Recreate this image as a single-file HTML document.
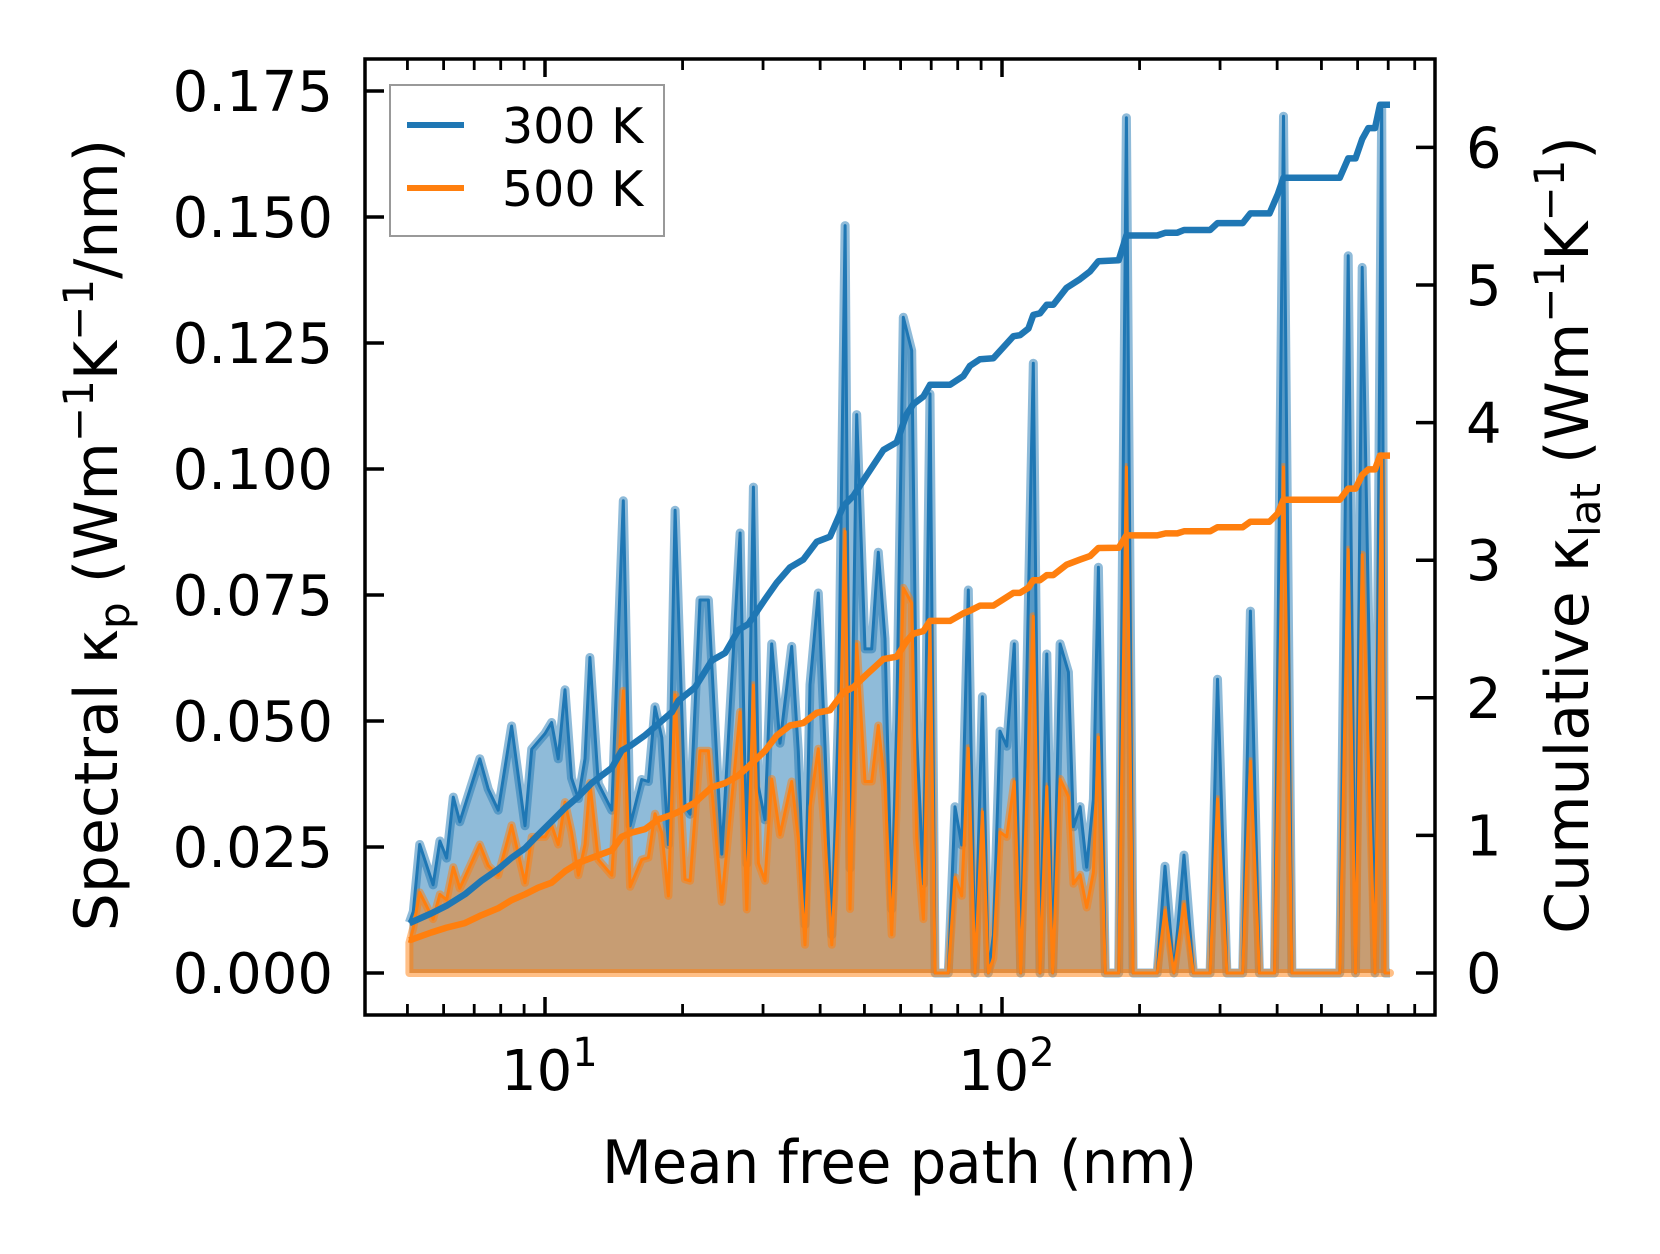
<!DOCTYPE html>
<html><head><meta charset="utf-8"><style>
html,body{margin:0;padding:0;background:#fff}
svg{display:block}
text{font-family:"DejaVu Sans","Liberation Sans",sans-serif;fill:#000}
</style></head><body>
<svg id="chart" width="1660" height="1254" viewBox="0 0 1660 1254" xmlns="http://www.w3.org/2000/svg">
<g id="plot"></g>
<g id="axes"></g>
</svg>
<script>
// Spectral data (mean free path nm, spectral kappa)
const mfpSpec = [5.05,5.15,5.32,5.69,5.89,6.09,6.30,6.51,7.20,7.51,7.90,8.45,9.04,9.35,10.00,10.34,10.69,11.06,11.43,11.83,12.23,12.54,13.08,14.00,14.84,15.35,16.28,16.84,17.41,18.01,18.62,19.26,20.25,20.77,21.84,22.78,24.37,26.73,27.64,28.58,29.30,30.29,31.33,32.68,34.66,35.84,37.06,38.01,39.64,41.00,42.41,43.85,45.35,46.50,48.08,50.14,51.86,53.63,55.46,57.36,58.82,60.83,63.45,65.07,67.30,69.59,71.37,76.30,78.91,81.61,84.40,87.29,90.58,93.35,95.74,99.01,102.4,106.4,109.9,117.1,121.1,125.3,129.1,134.0,139.7,143.3,148.2,153.2,158.5,162.5,168.3,180.0,187.2,193.6,218.6,227.3,237.8,250.2,262.3,285.4,296.2,310.5,336.2,349.5,365.8,394.8,413.0,430.8,548.4,572.1,593.7,614.1,654.8,677.3,688.8,706.5];
const spec300 = [0.0100,0.0122,0.0255,0.0175,0.0262,0.0228,0.0349,0.0300,0.0425,0.0365,0.0323,0.0490,0.0292,0.0444,0.0475,0.0497,0.0425,0.0562,0.0387,0.0346,0.0425,0.0626,0.0376,0.0323,0.0937,0.0292,0.0384,0.0380,0.0528,0.0467,0.0255,0.0918,0.0330,0.0315,0.0740,0.0740,0.0236,0.0873,0.0217,0.0964,0.0370,0.0304,0.0653,0.0456,0.0648,0.0440,0.0096,0.0572,0.0754,0.0450,0.0076,0.0511,0.1483,0.0208,0.1108,0.0643,0.0643,0.0835,0.0663,0.0127,0.0501,0.1301,0.1235,0.0471,0.0177,0.1149,0,0,0.0330,0.0254,0.0760,0,0.0548,0,0.0075,0.0480,0.0450,0.0653,0,0.1210,0,0.0633,0,0.0653,0.0597,0.0290,0.0330,0.0210,0.0345,0.0805,0,0,0.1697,0,0,0.0212,0,0.0234,0,0,0.0583,0,0,0.0718,0,0,0.1700,0,0,0.1423,0,0.1400,0,0.1720,0,0];
const spec500 = [0.0060,0.0090,0.0160,0.0107,0.0156,0.0145,0.0210,0.0168,0.0255,0.0213,0.0194,0.0293,0.0179,0.0270,0.0270,0.0293,0.0255,0.0339,0.0280,0.0194,0.0255,0.0377,0.0225,0.0194,0.0560,0.0171,0.0225,0.0229,0.0316,0.0278,0.0153,0.0552,0.0186,0.0183,0.0441,0.0441,0.0141,0.0518,0.0126,0.0571,0.0218,0.0183,0.0385,0.0274,0.0380,0.0268,0.0056,0.0330,0.0445,0.0270,0.0056,0.0330,0.0876,0.0127,0.0653,0.0380,0.0380,0.0491,0.0370,0.0076,0.0330,0.0764,0.0734,0.0268,0.0107,0.0693,0,0,0.0190,0.0153,0.0446,0,0.0320,0,0.0030,0.0280,0.0270,0.0380,0,0.0708,0,0.0370,0,0.0385,0.0350,0.0177,0.0195,0.0130,0.0200,0.0468,0,0,0.1004,0,0,0.0125,0,0.0137,0,0,0.0345,0,0,0.0420,0,0,0.1004,0,0,0.0840,0,0.0830,0,0.1026,0,0];
// Cumulative data
const mfpCum = [5.05,5.64,6.09,6.68,7.26,7.90,8.45,9.04,9.66,10.34,11.06,11.83,12.65,14.00,14.72,15.48,16.56,17.71,18.94,19.58,21.30,23.17,24.79,26.50,27.87,30.32,32.14,34.37,36.75,39.32,42.04,44.96,47.29,50.56,55.02,58.82,61.85,63.97,67.30,69.59,76.95,82.31,85.11,89.51,95.74,105.9,109.5,114.2,117.1,121.1,125.3,129.5,138.5,148.2,155.8,162.5,180.0,187.2,218.6,228.0,241.9,250.2,285.4,296.2,336.2,349.5,384.8,401.4,413.0,548.4,572.1,593.7,614.1,633.1,654.8,671.7,706.5];
const cum300 = [0.363,0.433,0.489,0.572,0.670,0.754,0.837,0.906,1.004,1.101,1.199,1.282,1.380,1.491,1.616,1.658,1.728,1.811,1.895,1.978,2.076,2.271,2.326,2.493,2.536,2.717,2.836,2.948,3.004,3.134,3.171,3.393,3.467,3.616,3.801,3.857,4.060,4.134,4.190,4.275,4.275,4.339,4.413,4.461,4.468,4.628,4.635,4.683,4.783,4.794,4.857,4.857,4.980,5.043,5.099,5.173,5.18,5.36,5.36,5.38,5.38,5.40,5.40,5.45,5.45,5.52,5.52,5.66,5.78,5.78,5.92,5.92,6.06,6.14,6.14,6.31,6.31];
const cum500 = [0.238,0.294,0.330,0.363,0.420,0.470,0.530,0.572,0.620,0.656,0.739,0.800,0.837,0.892,0.990,1.020,1.046,1.116,1.150,1.171,1.240,1.350,1.380,1.435,1.500,1.616,1.725,1.799,1.817,1.891,1.910,2.040,2.077,2.169,2.281,2.299,2.411,2.466,2.485,2.559,2.559,2.614,2.633,2.670,2.670,2.762,2.762,2.800,2.855,2.855,2.892,2.892,2.967,3.004,3.030,3.089,3.09,3.18,3.18,3.195,3.195,3.21,3.21,3.24,3.24,3.28,3.28,3.34,3.44,3.44,3.52,3.52,3.62,3.66,3.66,3.76,3.76];
const leftTicks = [0,0.025,0.05,0.075,0.1,0.125,0.15,0.175];
const leftTickLabels = ["0.000","0.025","0.050","0.075","0.100","0.125","0.150","0.175"];
const rightTicks = [0,1,2,3,4,5,6];
const xMajor = [10,100];
const xMinor = [5,6,7,8,9,20,30,40,50,60,70,80,90,200,300,400,500,600,700,800];

const NS="http://www.w3.org/2000/svg";
const L=365,R=1435,T=59,B=1015;
function xs(v){return 545+(Math.log10(v)-1)*457;}
function yl(v){return 973-v*5040;}
function yr(v){return 973-v*137.6;}
function mk(tag,attrs,parent){const e=document.createElementNS(NS,tag);for(const k in attrs)e.setAttribute(k,attrs[k]);parent.appendChild(e);return e;}
const plot=document.getElementById('plot'), axes=document.getElementById('axes');

function linePts(xv,yv,fy){return xv.map((x,i)=>xs(x).toFixed(1)+','+fy(yv[i]).toFixed(1)).join(' ');}
function areaPts(xv,yv){return xs(xv[0]).toFixed(1)+','+yl(0)+' '+linePts(xv,yv,yl)+' '+xs(xv[xv.length-1]).toFixed(1)+','+yl(0);}

let e;
e=mk('polygon',{points:areaPts(mfpSpec,spec300),fill:'#1f77b4','fill-opacity':0.5,stroke:'none'},plot);


e=mk('polyline',{points:linePts(mfpSpec,spec300,yl),fill:'none',stroke:'#1f77b4','stroke-opacity':0.5,'stroke-width':9,'stroke-linejoin':'round'},plot);


e=mk('polygon',{points:areaPts(mfpSpec,spec500),fill:'#ff7f0e','fill-opacity':0.5,stroke:'#ff7f0e','stroke-opacity':0.5,'stroke-width':8,'stroke-linejoin':'round'},plot);


e=mk('polyline',{points:linePts(mfpSpec,spec300,yl),fill:'none',stroke:'#1f77b4','stroke-width':3,'stroke-linejoin':'round'},plot);


e=mk('polyline',{points:linePts(mfpSpec,spec500,yl),fill:'none',stroke:'#ff7f0e','stroke-width':3,'stroke-linejoin':'round'},plot);


e=mk('polyline',{points:linePts(mfpCum,cum300,yr),fill:'none',stroke:'#1f77b4','stroke-width':6.5,'stroke-linejoin':'round'},plot);


e=mk('polyline',{points:linePts(mfpCum,cum500,yr),fill:'none',stroke:'#ff7f0e','stroke-width':6.5,'stroke-linejoin':'round'},plot);



// frame
e=mk('rect',{x:L,y:T,width:R-L,height:B-T,fill:'none',stroke:'#000','stroke-width':3.5},axes);


leftTicks.forEach((v,i)=>{
  const y=yl(v);
  let t=mk('line',{x1:L,x2:L+19,y1:y,y2:y,stroke:'#000','stroke-width':3.5},axes);
  
  
  let tx=mk('text',{x:333,y:y+20,'font-size':56,'text-anchor':'end'},axes);
  tx.textContent=leftTickLabels[i];
  
  
});
rightTicks.forEach(v=>{
  const y=yr(v);
  let t=mk('line',{x1:R,x2:R-19,y1:y,y2:y,stroke:'#000','stroke-width':3.5},axes);
  
  
  let tx=mk('text',{x:1466,y:y+20,'font-size':56},axes);
  tx.textContent=String(v);
  
  
});
xMajor.forEach((v,i)=>{
  const x=xs(v);
  [[B,B-18],[T,T+18]].forEach(p=>{
    let t=mk('line',{x1:x,x2:x,y1:p[0],y2:p[1],stroke:'#000','stroke-width':3.5},axes);
    
    
  });
  let tx=mk('text',{x:x-44,y:1090,'font-size':56},axes);
  
  
  tx.textContent='10';
  let s=mk('tspan',{dy:-24,'font-size':40},tx);
  s.textContent=String(i+1);
});
xMinor.forEach(v=>{
  const x=xs(v);
  [[B,B-11],[T,T+11]].forEach(p=>{
    let t=mk('line',{x1:x,x2:x,y1:p[0],y2:p[1],stroke:'#000','stroke-width':2.8},axes);
    
    
  });
});
</script>
<svg style="position:absolute;left:0;top:0" width="1660" height="1254">
  <text x="602" y="1183" font-size="60" textLength="595" lengthAdjust="spacingAndGlyphs">Mean free path (nm)</text>
  <text transform="translate(117,535) rotate(-90)" text-anchor="middle" font-size="60">Spectral κ<tspan font-size="42" dy="12">p</tspan><tspan dy="-12"> (Wm</tspan><tspan font-size="42" dy="-24">−1</tspan><tspan dy="24">K</tspan><tspan font-size="42" dy="-24">−1</tspan><tspan dy="24">/nm)</tspan></text>
  <text transform="translate(1588,535) rotate(-90)" text-anchor="middle" font-size="60">Cumulative κ<tspan font-size="42" dy="12">lat</tspan><tspan dy="-12"> (Wm</tspan><tspan font-size="42" dy="-24">−1</tspan><tspan dy="24">K</tspan><tspan font-size="42" dy="-24">−1</tspan><tspan dy="24">)</tspan></text>
  <g>
    <rect x="390" y="85" width="274" height="151" fill="#fff" fill-opacity="0.8" stroke="#999" stroke-width="2"/>
    <line x1="407" x2="464" y1="125" y2="125" stroke="#1f77b4" stroke-width="6"/>
    <text x="502" y="143" font-size="49">300 K</text>
    <line x1="407" x2="464" y1="188" y2="188" stroke="#ff7f0e" stroke-width="6"/>
    <text x="502" y="206" font-size="49">500 K</text>
  </g>
</svg>
</body></html>
